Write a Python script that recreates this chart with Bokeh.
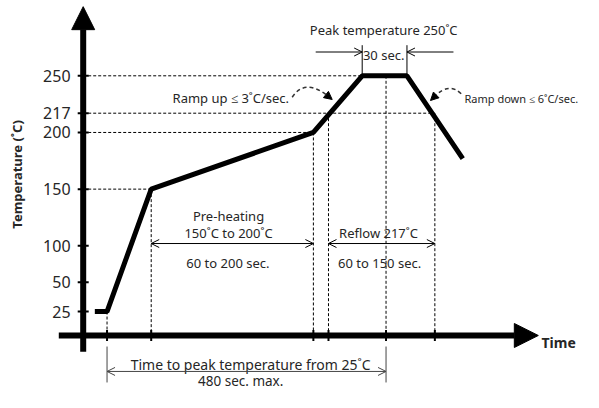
import numpy as np
from bokeh.plotting import figure
from bokeh.models import Range1d, Arrow, NormalHead, OpenHead
from bokeh.embed import file_html
from bokeh.resources import INLINE
from bokeh.core.properties import value

# ---------------- data (schematic reflow profile) ----------------
profile_time = [20, 41, 117, 396, 480, 557, 653]      # seconds
profile_temp = [25, 25, 150, 200, 250, 250, 177]      # deg C
tick_temps = [25, 50, 100, 150, 200, 217, 250]
tick_labels = ["25", "50", "100", "150", "200", "217", "250"]
t_start = 41            # leaving 25 C
t_preheat = [117, 396]  # 150 C -> 200 C
t_reflow = [422, 605]   # above 217 C
t_peak = [480, 557]     # at 250 C
t_peak_mid = 521        # 480 s after leaving 25 C
guide_temps = [150, 200, 217, 250]
guide_ends = [117, 396, 605, 480]
vguide_times = [41, 117, 396, 422, 521, 605]
vguide_temps = [25, 150, 200, 217, 250, 217]

# ---------------- schematic (non-linear) temperature scale ----------------
SCALE_T = [-100, 0, 25, 50, 100, 400]
SCALE_Y = [-63.75, 20.85, 42.0, 67.9, 100, 400]


def ty(T):
    return np.interp(np.asarray(T, dtype=float), SCALE_T, SCALE_Y)


W, H = 583, 392
sec_per_px = 480 / 279.0
unit_per_px = 1 / 1.1333
x0 = -82.7 * sec_per_px
y1 = 250 + 75.3 * unit_per_px

p = figure(width=W, height=H,
           x_range=Range1d(x0, x0 + W * sec_per_px),
           y_range=Range1d(y1 - H * unit_per_px, y1),
           output_backend="svg", toolbar_location=None,
           x_axis_location=None, y_axis_location=None, min_border=0)
p.grid.visible = False
p.outline_line_color = None
p.background_fill_color = "white"

FONT = value("Noto Sans")
TXT = "#262626"

# dotted guide lines
p.segment(x0=[0] * len(guide_temps), y0=ty(guide_temps), x1=guide_ends, y1=ty(guide_temps),
          line_color="black", line_width=1, line_dash="3 2")
p.segment(x0=vguide_times, y0=ty(vguide_temps), x1=vguide_times, y1=ty([0] * len(vguide_times)),
          line_color="black", line_width=1, line_dash="3 2")

# profile
p.line(profile_time, ty(profile_temp), line_color="black", line_width=5)

# axes with arrow heads
p.add_layout(Arrow(end=NormalHead(size=23, fill_color="black", line_color="black"),
                   x_start=0, y_start=float(ty(-17)), x_end=0, y_end=float(ty(311)),
                   line_color="black", line_width=6))
p.add_layout(Arrow(end=NormalHead(size=24, fill_color="black", line_color="black"),
                   x_start=-42, y_start=float(ty(0)), x_end=783, y_end=float(ty(0)),
                   line_color="black", line_width=6))

# ticks
p.scatter(x=[0] * len(tick_temps), y=ty(tick_temps), marker="dash", size=11,
          line_color="black", line_width=2)
p.scatter(x=vguide_times, y=ty([0] * len(vguide_times)), marker="dash", angle=np.pi / 2,
          size=11, line_color="black", line_width=2)

# tick labels
p.text(x=[-21.8] * len(tick_temps), y=ty(tick_temps), text=tick_labels,
       text_align="right", text_baseline="middle", text_font=FONT,
       text_font_size=value("16px"), text_color=TXT)


def txt(x, T, s, size="13px", align="center", style="normal", angle=0.0):
    p.text(x=[x], y=ty([T]), text=[s], text_align=align, text_baseline="middle",
           text_font=FONT, text_font_size=value(size), text_font_style=style,
           text_color=TXT, angle=angle)


def darrow(xa, xb, T, both=True, color="black"):
    p.add_layout(Arrow(start=OpenHead(size=8, line_color=color, line_width=1) if both else None,
                       end=OpenHead(size=8, line_color=color, line_width=1),
                       x_start=xa, y_start=float(ty(T)), x_end=xb, y_end=float(ty(T)),
                       line_color=color, line_width=1))


# axis titles
txt(-113.5, 163, "Temperature (˚C)", size="13px", style="bold", angle=np.pi / 2)
txt(788.5, -7, "Time", size="14px", align="left", style="bold")

# peak annotation
txt(517, 290, "Peak temperature 250˚C")
txt(517, 268, "30 sec.")
p.segment(x0=t_peak, y0=ty([250, 250]), x1=t_peak, y1=ty([277, 277]), line_color="black", line_width=1)
darrow(400, t_peak[0], 271, both=False)
darrow(637, t_peak[1], 271, both=False)

# ramp up / down annotations
txt(254, 230, "Ramp up ≤ 3˚C/sec.")
p.quadratic(x0=[359.6], y0=ty([231.1]), x1=[420.3], y1=ty([232.4]), cx=[381.2], cy=ty([248]),
            line_color="#333333", line_width=1.5, line_dash="4 3")
p.add_layout(Arrow(end=NormalHead(size=8, fill_color="black", line_color="black"),
                   x_start=420.3, y_start=float(ty(232.4)), x_end=428.4, y_end=float(ty(229.1)),
                   line_color=None))
txt(656, 229.7, "Ramp down ≤ 6˚C/sec.", size="11px", align="left")
p.quadratic(x0=[650.3], y0=ty([234.1]), x1=[604.9], y1=ty([231.9]), cx=[629.6], cy=ty([244.7]),
            line_color="#333333", line_width=1.5, line_dash="4 3")
p.add_layout(Arrow(end=NormalHead(size=8, fill_color="black", line_color="black"),
                   x_start=604.9, y_start=float(ty(231.9)), x_end=597.5, y_end=float(ty(228.2)),
                   line_color=None))

# pre-heating
txt(250, 126, "Pre-heating")
txt(250, 111, "150˚C to 200˚C")
darrow(t_preheat[0], t_preheat[1], 102)
txt(249, 76, "60 to 200 sec.")

# reflow
txt(508, 111, "Reflow 217˚C")
darrow(t_reflow[0], t_reflow[1], 102)
txt(510, 76, "60 to 150 sec.")

# time to peak
p.segment(x0=[t_start, t_peak_mid], y0=ty([-11.5, -11.5]), x1=[t_start, t_peak_mid], y1=ty([-49.0, -49.0]),
          line_color="#444444", line_width=1)
darrow(t_start, t_peak_mid, -37.5, color="#444444")
txt(288, -30.2, "Time to peak temperature from 25˚C", size="14px")
txt(271, -47.5, "480 sec. max.", size="13.5px")

open("out.html", "w").write(file_html(p, INLINE))
